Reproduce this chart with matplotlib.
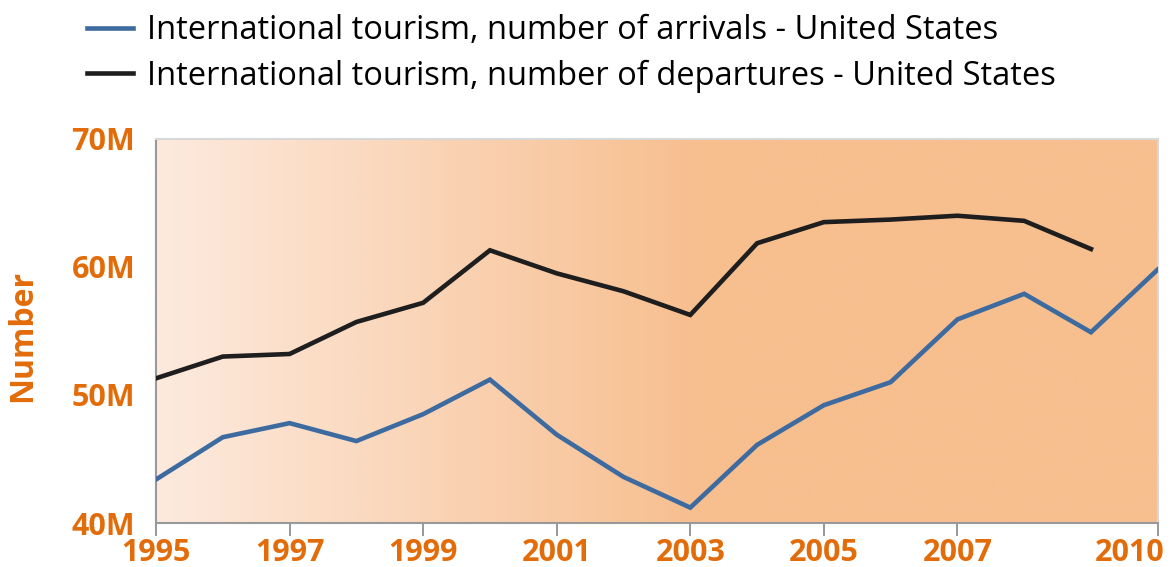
import matplotlib
matplotlib.use("Agg")
import matplotlib.pyplot as plt
import matplotlib.transforms as mtransforms
import numpy as np
from matplotlib.colors import LinearSegmentedColormap

years = list(range(1995, 2011))
arrivals = [43.4, 46.7, 47.8, 46.4, 48.5, 51.2, 46.9, 43.6, 41.2, 46.1, 49.2, 51.0, 55.9, 57.9, 54.9, 59.8]
dep_years = list(range(1995, 2010))
departures = [51.3, 53.0, 53.2, 55.7, 57.2, 61.3, 59.5, 58.1, 56.25, 61.85, 63.5, 63.7, 64.0, 63.6, 61.4]
xticks = [1995, 1997, 1999, 2001, 2003, 2005, 2007, 2010]
yticks = [40, 50, 60, 70]
ytick_labels = ["40M", "50M", "60M", "70M"]
labels = ["International tourism, number of arrivals - United States",
          "International tourism, number of departures - United States"]

orange = "#e36c0a"
plt.rcParams['font.family'] = ['Open Sans', 'DejaVu Sans']

fig = plt.figure(figsize=(11.73, 5.67), dpi=100)
ax = fig.add_axes([0.133, 0.0776, 0.854, 0.6774])

# gradient background
cmap = LinearSegmentedColormap.from_list("bg", [(0, "#fdeade"), (0.55, "#f7be8e"), (1, "#f7be8e")])
grad = np.linspace(0, 1, 512).reshape(1, -1)
ax.imshow(grad, extent=[0, 1, 0, 1], transform=ax.transAxes, cmap=cmap, aspect="auto", zorder=0)

l1, = ax.plot(years, arrivals, color="#3d6a9f", lw=3.3, zorder=3, solid_joinstyle="miter")
l2, = ax.plot(dep_years, departures, color="#1e1e1e", lw=3.3, zorder=3, solid_joinstyle="miter")

ax.set_xlim(1995, 2010)
ax.set_ylim(40, 70)
ax.set_xticks(xticks)
ax.set_xticklabels([str(x) for x in xticks])
ax.set_yticks(yticks)
ax.set_yticklabels(ytick_labels)

for lab in ax.get_xticklabels() + ax.get_yticklabels():
    lab.set_color(orange)
    lab.set_fontweight("bold")
    lab.set_fontsize(22)
ax.tick_params(axis="x", length=9, width=1.3, color="#909090", pad=2)
ax.tick_params(axis="y", length=0, pad=15)

# last x label shifted left so it stays inside the figure
last = ax.get_xticklabels()[-1]
last.set_horizontalalignment("right")
last.set_transform(last.get_transform() + mtransforms.ScaledTranslation(7 / 100, 0, fig.dpi_scale_trans))

for s in ["left", "bottom"]:
    ax.spines[s].set_color("#999999")
    ax.spines[s].set_linewidth(1.5)
for s in ["top", "right"]:
    ax.spines[s].set_color("#d8d8d8")
    ax.spines[s].set_linewidth(1.5)

fig.text(0.019, 0.407, "Number", rotation=90, color=orange, fontweight="bold",
         fontsize=23, ha="center", va="center")

fig.legend([l1, l2], labels, loc="upper left", bbox_to_anchor=(87 / 1173, 0.975),
           frameon=False, fontsize=23.5, handlelength=1.4, handletextpad=0.45,
           labelspacing=0.38, borderaxespad=0, borderpad=0)

fig.savefig("out.png", dpi=100, facecolor="white")
